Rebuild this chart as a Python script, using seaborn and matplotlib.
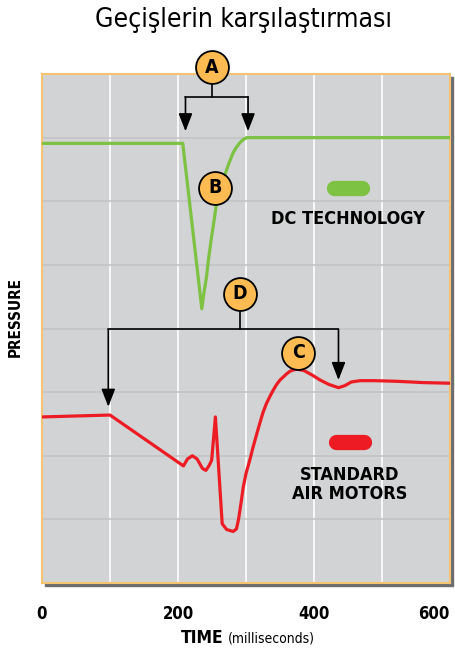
import numpy as np
import matplotlib
matplotlib.use('Agg')
import matplotlib.pyplot as plt
import seaborn as sns
from matplotlib import font_manager
from matplotlib.patches import Rectangle

# data (time in ms, pressure in grid units)
dc_time = [0, 207, 235, 238, 242, 245, 249.5, 252, 256, 260, 269, 275, 281,
           286, 291, 296, 301, 600]
dc_pressure = [6.91, 6.91, 4.31, 4.55, 4.82, 5.10, 5.45, 5.62, 5.92, 6.08, 6.42,
               6.60, 6.76, 6.85, 6.92, 6.97, 7.0, 7.0]

air_time = [0, 100, 208, 214, 221, 228, 236, 241, 246, 249.5, 255, 265, 271.6,
            281, 286, 289, 293, 296, 300, 306, 310, 316, 320, 325, 330, 335, 340,
            345, 350, 355, 360, 365, 370, 375, 385, 397, 409, 422, 436, 445, 455,
            468, 490, 522, 560, 600]
air_pressure = [2.61, 2.64, 1.84, 1.95, 2.0, 1.95, 1.80, 1.77, 1.85, 1.93, 2.61,
                0.93, 0.84, 0.81, 0.85, 1.00, 1.28, 1.51, 1.72, 1.95, 2.12, 2.35,
                2.50, 2.68, 2.82, 2.93, 3.03, 3.12, 3.19, 3.24, 3.29, 3.33, 3.35,
                3.36, 3.34, 3.27, 3.19, 3.12, 3.07, 3.10, 3.16, 3.18, 3.18, 3.17,
                3.15, 3.14]

x_ticks = [0, 100, 200, 300, 400, 500, 600]
x_labels = ['0', '', '200', '', '400', '', '600']

GREEN = '#7dc242'
RED = '#ed1c24'
ORANGE = '#fdbb52'
BG = '#d1d3d4'

sns.set_theme(style='white')
names = {f.name for f in font_manager.fontManager.ttflist}
cond = 'Liberation Sans Narrow' if 'Liberation Sans Narrow' in names else 'DejaVu Sans'
plt.rcParams['font.family'] = [cond, 'DejaVu Sans']
plt.rcParams['font.stretch'] = 'condensed'
plt.rcParams['text.color'] = 'black'
plt.rcParams['xtick.color'] = 'black'

fig = plt.figure(figsize=(4.56, 6.6), dpi=100)
ax = fig.add_axes([42 / 456, 77 / 660, 408 / 456, 509 / 660])

# drop shadow behind plot area
fig.patches.append(Rectangle((45 / 456, 74 / 660), 408 / 456, 509 / 660,
                             transform=fig.transFigure, color='#6d6e70', zorder=-1))

ax.set_facecolor(BG)
ax.set_xlim(0, 600)
ax.set_ylim(0, 8)
ax.set_xticks(x_ticks)
ax.set_xticklabels(x_labels, fontsize=12, fontweight='bold')
ax.get_xticklabels()[-1].set_ha('right')
ax.set_yticks(range(9))
ax.set_yticklabels([])
ax.tick_params(length=0, pad=16)
ax.xaxis.grid(True, color='white', linewidth=1.2)
ax.yaxis.grid(True, color='#c2c4c6', linewidth=1.2)
ax.set_axisbelow(True)
for sp in ax.spines.values():
    sp.set_color('#f6c370')
    sp.set_linewidth(1.5)

sns.lineplot(x=dc_time, y=dc_pressure, ax=ax, color=GREEN, linewidth=2.3, zorder=3)
sns.lineplot(x=air_time, y=air_pressure, ax=ax, color=RED, linewidth=2.3, zorder=3)


# brackets with arrows
def bracket(cx, cy, ybar, x0, x1, tip0, tip1):
    ax.plot([cx, cx], [cy, ybar], color='black', lw=1.2, zorder=4, clip_on=False)
    ax.plot([x0, x1], [ybar, ybar], color='black', lw=1.2, zorder=4)
    for xx, tip in ((x0, tip0), (x1, tip1)):
        ax.annotate('', xy=(xx, tip), xytext=(xx, ybar),
                    arrowprops=dict(arrowstyle='-|>,head_length=0.9,head_width=0.35',
                                    color='black', lw=1.2, shrinkA=0, shrinkB=0),
                    zorder=4)


bracket(250, 8.11, 7.64, 211, 303, 7.1, 7.1)
bracket(291, 4.55, 3.99, 97.5, 436, 2.77, 3.19)

# lettered markers
for letter, lx, ly in [('A', 250, 8.11), ('B', 255, 6.21), ('C', 377, 3.62), ('D', 291, 4.55)]:
    ax.scatter([lx], [ly], s=560, color=ORANGE, edgecolor='black', linewidth=1.3,
               zorder=5, clip_on=False)
    ax.text(lx, ly, letter, ha='center', va='center', fontsize=14, fontweight='bold',
            zorder=6, clip_on=False)

# legend pills
ax.plot([429, 471], [6.21, 6.21], color=GREEN, lw=11, solid_capstyle='round', zorder=3)
ax.text(450, 5.72, 'DC TECHNOLOGY', ha='center', va='center', fontsize=13, fontweight='bold')
ax.plot([433, 474], [2.22, 2.22], color=RED, lw=11, solid_capstyle='round', zorder=3)
ax.text(453, 1.55, 'STANDARD\nAIR MOTORS', ha='center', va='center', fontsize=13,
        fontweight='bold', linespacing=1.05)

ax.set_xlabel('')
ax.set_ylabel('')
fig.text(15 / 456, 1 - 317 / 660, 'PRESSURE', rotation=90, ha='center', va='center',
         fontsize=11, fontweight='bold')
fig.text(224 / 456, 1 - 638 / 660, 'TIME', ha='right', va='center', fontsize=12.5,
         fontweight='bold')
fig.text(228 / 456, 1 - 639 / 660, '(milliseconds)', ha='left', va='center', fontsize=10)
fig.text(244 / 456, 1 - 20 / 660, 'Geçişlerin karşılaştırması', ha='center', va='center',
         fontsize=19)

fig.savefig('out.png', dpi=100)
